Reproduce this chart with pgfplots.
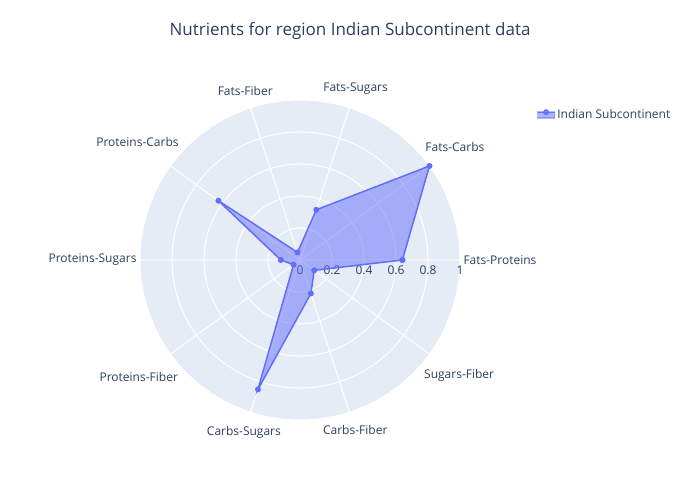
\documentclass[border=0pt]{standalone}
\usepackage{pgfplots}
\pgfplotsset{compat=1.18}
\usepgfplotslibrary{polar}
\usepackage{fontspec}
\setmainfont{Open Sans}
\definecolor{bgc}{HTML}{E5ECF6}
\definecolor{txt}{HTML}{2A3F5F}
\definecolor{ser}{HTML}{636EFA}
\begin{document}
\begin{tikzpicture}[x=1pt,y=1pt]
\useasboundingbox (0,0) rectangle (700,500);
\node[text=txt,font=\fontsize{17}{20}\selectfont] at (350,469) {Nutrients for region Indian Subcontinent data};
\begin{polaraxis}[
  at={(300pt,240pt)}, anchor=center,
  scale only axis, width=320pt, height=320pt,
  ymin=0, ymax=1,
  xtick={0,36,...,324},
  xticklabels={Fats-Proteins,Fats-Carbs,Fats-Sugars,Fats-Fiber,Proteins-Carbs,Proteins-Sugars,Proteins-Fiber,Carbs-Sugars,Carbs-Fiber,Sugars-Fiber},
  ytick={0,0.2,0.4,0.6,0.8,1},
  yticklabels={0,0.2,0.4,0.6,0.8,1},
  yticklabel style={anchor=north,yshift=-2pt,font=\fontsize{12}{14}\selectfont,text=txt},
  xticklabel style={font=\fontsize{12}{14}\selectfont,text=txt},
  /pgf/number format/assume math mode=true,
  axis background/.style={fill=bgc},
  axis line style={draw=none},
  grid=both, major grid style={white,line width=1pt},
  tick style={draw=none},
  legend style={at={(1.23,0.953)},anchor=west,draw=none,fill=none,font=\fontsize{12}{14}\selectfont,text=txt},
  legend image code/.code={
    \fill[ser,opacity=0.5] (0cm,-0.1cm) rectangle (0.6cm,0.1cm);
    \draw[ser,line width=1.2pt] (0cm,0.1cm) -- (0.6cm,0.1cm);
    \fill[ser] (0.3cm,0.1cm) circle (2.2pt);
  },
]
\addplot[ser,line width=1.5pt,fill=ser,fill opacity=0.5,draw opacity=1,mark=*,mark size=2.2pt,mark options={fill=ser,fill opacity=1}] coordinates {
 (0,0.64) (36,1.0) (72,0.33) (108,0.05) (144,0.63) (180,0.12) (216,0.05) (252,0.85) (288,0.22) (324,0.11) (360,0.64)};
\addlegendentry{Indian Subcontinent}
\end{polaraxis}
\end{tikzpicture}
\end{document}
